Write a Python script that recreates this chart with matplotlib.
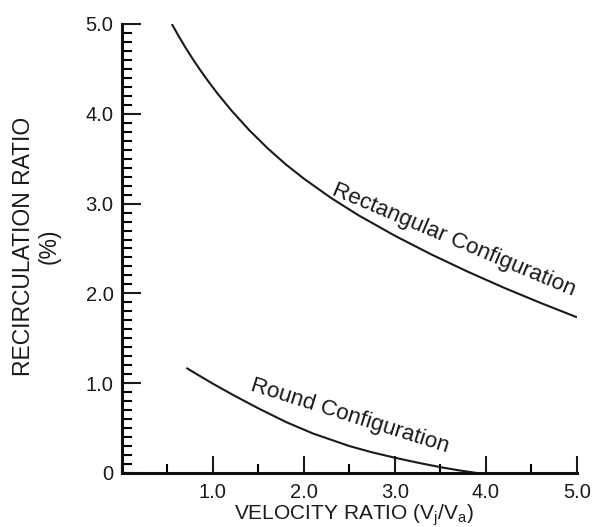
import numpy as np
import matplotlib.pyplot as plt
from matplotlib.ticker import MultipleLocator

plt.rcParams['font.family'] = ['Liberation Sans', 'DejaVu Sans']

# Rectangular configuration curve
rect_x = [0.55, 0.62, 0.7, 0.78, 0.86, 0.95, 1.05, 1.2, 1.4, 1.6, 1.8, 2.0, 2.3,
          2.6, 3.0, 3.4, 3.8, 4.2, 4.6, 5.0]
rect_y = [5.0, 4.874, 4.738, 4.61, 4.49, 4.362, 4.228, 4.042, 3.818, 3.618, 3.438, 3.278,
          3.062, 2.87, 2.642, 2.434, 2.242, 2.062, 1.894, 1.734]

# Round configuration curve
round_x = [0.71, 0.85, 1.0, 1.23, 1.5, 1.81, 2.1, 2.5, 2.75, 3.0, 3.25, 3.5, 3.7, 3.9]
round_y = [1.17, 1.085, 0.995, 0.865, 0.72, 0.565, 0.44, 0.30, 0.23, 0.17, 0.115, 0.065,
           0.03, 0.0]

x_ticks = [1.0, 2.0, 3.0, 4.0, 5.0]
x_tick_labels = ['1.0', '2.0', '3.0', '4.0', '5.0']
y_ticks = [0, 1.0, 2.0, 3.0, 4.0, 5.0]
y_tick_labels = ['0', '1.0', '2.0', '3.0', '4.0', '5.0']

fig = plt.figure(figsize=(5.92, 5.27), dpi=100)
ax = fig.add_axes([121.75 / 592, 1 - 473 / 527, (577 - 121.75) / 592, (473 - 24) / 527])

ax.plot(rect_x, rect_y, color='#1a1a1a', linewidth=1.5, solid_capstyle='butt')
ax.plot(round_x, round_y, color='#1a1a1a', linewidth=1.5, solid_capstyle='butt')

ax.set_xlim(0, 5)
ax.set_ylim(0, 5)

ax.spines['top'].set_visible(False)
ax.spines['right'].set_visible(False)
for s in ['left', 'bottom']:
    ax.spines[s].set_linewidth(2.2)
    ax.spines[s].set_color('#111111')
    ax.spines[s].set_capstyle('projecting')

ax.set_xticks(x_ticks)
ax.set_xticklabels(x_tick_labels)
ax.set_yticks(y_ticks)
ax.set_yticklabels(y_tick_labels)
ax.xaxis.set_minor_locator(MultipleLocator(0.5))
ax.yaxis.set_minor_locator(MultipleLocator(0.1))

ax.tick_params(axis='x', which='major', direction='in', length=12, width=1.5,
               labelsize=14.5, pad=7, colors='#1a1a1a')
ax.tick_params(axis='x', which='minor', direction='in', length=6.5, width=1.5)
ax.tick_params(axis='y', which='major', direction='in', length=14, width=1.5,
               labelsize=14.5, pad=6, colors='#1a1a1a')
ax.tick_params(axis='y', which='minor', direction='in', length=7, width=1.5)

# Axis labels
fig.text(36.5 / 592, 1 - 246 / 527, 'RECIRCULATION RATIO\n(%)', rotation=90,
         ha='center', va='center', multialignment='center', fontsize=16.5,
         color='#1a1a1a', linespacing=1.15)
fig.text(353.5 / 592, 1 - 519 / 527,
         r'VELOCITY RATIO (V$_\mathregular{j}$/V$_\mathregular{a}$)',
         ha='center', va='baseline', fontsize=15, color='#1a1a1a')

# Curve labels
ax.text(3.62, 2.54, 'Rectangular Configuration', rotation=-22.8, rotation_mode='anchor',
        ha='center', va='baseline', fontsize=16.2, color='#1a1a1a')
ax.text(2.49, 0.58, 'Round Configuration', rotation=-17.5, rotation_mode='anchor',
        ha='center', va='baseline', fontsize=16.2, color='#1a1a1a')

fig.savefig('out.png', dpi=100)
